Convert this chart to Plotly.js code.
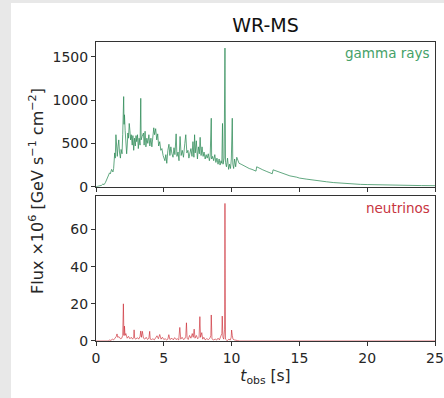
<!DOCTYPE html>
<html>
<head>
<meta charset="utf-8">
<script src="https://cdn.plot.ly/plotly-3.0.1.min.js"></script>
<style>
html,body{margin:0;padding:0;background:#e8e8e8;width:444px;height:398px;overflow:hidden;}
#chart{position:absolute;left:11px;top:3px;width:433px;height:395px;background:#fff;}
</style>
</head>
<body>
<div id="chart"></div>
<script>
// Gamma-ray light curve (t_obs [s], flux x1e6)
const gammaT = [0.0,0.2,0.4,0.5,0.6,0.7,0.8,0.9,1.0,1.06,1.15,1.25,1.3,1.38,1.42,1.47,1.52,1.57,1.62,1.68,1.73,1.8,1.85,1.92,1.97,2.04,2.07,2.1,2.15,2.2,2.26,2.3,2.35,2.4,2.45,2.5,2.55,2.6,2.67,2.72,2.78,2.84,2.9,2.95,3.0,3.06,3.12,3.18,3.25,3.3,3.33,3.4,3.5,3.55,3.62,3.68,3.75,3.82,3.9,3.97,4.05,4.12,4.2,4.26,4.32,4.4,4.48,4.55,4.62,4.7,4.78,4.86,4.95,5.0,5.08,5.15,5.22,5.3,5.38,5.45,5.52,5.6,5.68,5.75,5.82,5.91,5.97,6.05,6.12,6.2,6.28,6.36,6.45,6.55,6.62,6.7,6.78,6.85,6.92,7.0,7.08,7.15,7.22,7.27,7.32,7.4,7.48,7.55,7.62,7.68,7.75,7.82,7.9,7.97,8.05,8.12,8.2,8.28,8.36,8.42,8.5,8.53,8.6,8.68,8.76,8.84,8.92,9.0,9.08,9.15,9.22,9.28,9.33,9.37,9.45,9.51,9.55,9.62,9.7,9.78,9.85,9.92,9.98,10.05,10.09,10.15,10.22,10.3,10.38,10.47,10.55,10.7,10.9,11.1,11.3,11.5,11.7,11.8,11.85,12.0,12.3,12.6,12.95,13.0,13.06,13.3,13.7,14.0,14.3,14.8,15.0,15.5,16.0,16.5,17.0,17.5,18.0,18.5,19.0,19.5,20.0,21.0,22.0,23.0,24.0,25.0];
const gammaFlux = [0,5,15,30,25,50,90,120,160,150,200,170,210,390,330,600,420,350,460,540,400,330,430,380,600,1040,720,830,650,520,380,470,620,560,730,650,540,600,480,590,420,560,470,590,520,600,440,560,480,1020,540,580,620,480,640,460,560,500,600,470,560,460,620,680,600,670,540,610,470,520,420,440,360,340,300,370,270,420,490,360,460,380,340,450,370,610,350,400,300,580,360,420,340,500,600,390,420,330,380,440,350,520,340,600,390,530,320,460,380,570,360,460,350,400,320,370,330,380,300,350,790,320,350,300,370,280,330,260,320,250,300,270,730,260,330,1600,280,230,330,200,260,210,320,790,260,210,320,230,340,300,270,260,240,230,210,200,185,180,230,215,195,175,155,150,195,180,155,140,125,110,100,88,75,65,57,48,41,35,30,27,25,20,17,15,13,12];

// Neutrino light curve
const nuT = [0,0.9,1.0,1.1,1.2,1.3,1.4,1.5,1.55,1.6,1.7,1.8,1.9,1.97,2.02,2.06,2.1,2.14,2.2,2.3,2.4,2.5,2.6,2.7,2.78,2.81,2.85,2.95,3.05,3.15,3.25,3.3,3.35,3.42,3.5,3.6,3.7,3.8,3.9,3.96,4.0,4.1,4.2,4.3,4.4,4.5,4.6,4.7,4.8,4.9,5.0,5.1,5.2,5.3,5.37,5.45,5.6,5.7,5.8,5.9,6.0,6.1,6.18,6.25,6.35,6.45,6.55,6.62,6.67,6.72,6.8,6.9,7.0,7.1,7.17,7.24,7.3,7.4,7.5,7.6,7.66,7.71,7.8,7.87,7.95,8.05,8.15,8.3,8.4,8.47,8.5,8.55,8.65,8.8,8.9,9.0,9.1,9.2,9.28,9.31,9.36,9.42,9.48,9.51,9.55,9.62,9.7,9.8,9.9,9.97,10.0,10.05,10.1,10.2,10.3,10.45,10.6,25];
const nuFlux = [0,0,0.5,0.3,1.0,0.6,1.5,2.5,3.8,2.0,2.3,1.2,1.5,3,20,3,8,3,4,1.5,2.5,1.2,2,1,2,6,1.5,1,1.8,1,2.5,5.4,2,5.2,1.5,1,2,0.8,1.5,5.2,1,0.8,1.2,0.6,1.5,2.8,1.2,3.5,1,2,0.8,1.2,0.6,1,3.4,0.8,1.5,0.6,1.8,0.8,1.2,0.6,7.3,1,2,0.8,1.2,2.5,9.8,1.5,0.8,3,1.5,4,2,6.4,1.5,3,1.2,2,13.1,2,4.5,1,2,0.6,1.2,0.8,1.5,3,14,1.2,0.6,1,0.5,1.5,0.6,2.5,4,13.4,2,1,6,74,1,0.5,0.3,1,0.5,2,5.9,3,1,0.6,0.3,0.2,0,0];

const xTicks = [0,5,10,15,20,25];
const gammaTicks = [0,500,1000,1500];
const nuTicks = [0,20,40,60];

const FONT = 'DejaVu Sans, sans-serif';
const AX = '#333333';
const TXT = '#262626';

const axisBase = {
  showgrid:false, zeroline:false, showline:true, mirror:true,
  linecolor:AX, linewidth:1, ticks:'outside', ticklen:4, tickwidth:1, tickcolor:AX,
  tickfont:{family:FONT, size:14, color:TXT}
};

const traces = [
  {x:gammaT, y:gammaFlux, xaxis:'x2', yaxis:'y2', type:'scatter', mode:'lines',
   line:{color:'rgba(46,139,87,0.75)', width:1}, hoverinfo:'skip'},
  {x:nuT, y:nuFlux, xaxis:'x', yaxis:'y', type:'scatter', mode:'lines',
   line:{color:'rgba(200,30,40,0.6)', width:1}, hoverinfo:'skip'}
];

const layout = {
  width:433, height:395,
  margin:{l:85, r:9, t:39, b:57},
  paper_bgcolor:'#ffffff', plot_bgcolor:'#ffffff',
  showlegend:false,
  font:{family:FONT, color:TXT},
  title:{text:'WR-MS', font:{family:FONT, size:19, color:'#111'}, x:0.5, xref:'paper', xanchor:'center', y:0.944, yref:'container', yanchor:'middle'},
  xaxis:Object.assign({}, axisBase, {domain:[0,1], range:[0,25], anchor:'y', tickvals:xTicks,
    title:{text:'<i>t</i><sub>obs</sub> [s]', font:{family:FONT, size:15.5, color:TXT}, standoff:5}}),
  yaxis:Object.assign({}, axisBase, {domain:[0,0.485], range:[0,78], tickvals:nuTicks}),
  xaxis2:Object.assign({}, axisBase, {domain:[0,1], range:[0,25], anchor:'y2', matches:'x', tickvals:xTicks, showticklabels:false}),
  yaxis2:Object.assign({}, axisBase, {domain:[0.516,1], range:[0,1670], tickvals:gammaTicks}),
  annotations:[
    {text:'Flux ×10<sup>6</sup> [GeV s<sup>−1</sup> cm<sup>−2</sup>]', xref:'paper', yref:'paper', x:0, y:0.502,
     xanchor:'center', yanchor:'middle', xshift:-59, textangle:-90, showarrow:false,
     font:{family:FONT, size:16, color:TXT}},
    {text:'gamma rays', xref:'paper', yref:'y2 domain', x:1, y:0.924, xanchor:'right', yanchor:'middle', xshift:-3,
     showarrow:false, font:{family:FONT, size:13.5, color:'#45a168'}},
    {text:'neutrinos', xref:'paper', yref:'y domain', x:1, y:0.915, xanchor:'right', yanchor:'middle', xshift:-3,
     showarrow:false, font:{family:FONT, size:13.5, color:'#c8363f'}}
  ]
};

Plotly.newPlot('chart', traces, layout, {staticPlot:true, displayModeBar:false});
</script>
</body>
</html>
